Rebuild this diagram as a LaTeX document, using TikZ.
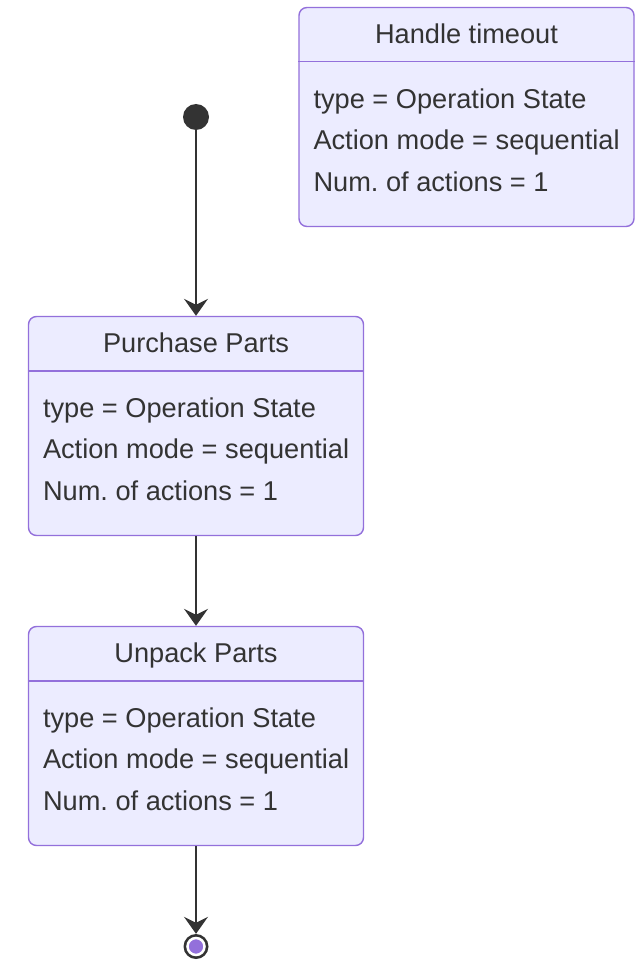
\documentclass[tikz,border=0pt]{standalone}
\usepackage{fontspec}
\setmainfont{Liberation Sans}
\usetikzlibrary{arrows.meta}
\definecolor{statefill}{HTML}{ECECFF}
\definecolor{stateline}{HTML}{9370DB}
\definecolor{ink}{HTML}{333333}
\tikzset{
  statebox/.style={draw=stateline, fill=statefill, line width=1.4pt, rounded corners=8pt,
    minimum width=335pt, minimum height=219pt, inner sep=0pt},
  divider/.style={draw=stateline, line width=1.4pt},
  txt/.style={text=ink, font=\fontsize{27.2}{42}\selectfont, inner sep=0pt},
  flow/.style={draw=ink, line width=1.5pt, -{Stealth[length=17pt,width=24pt,inset=6pt]}},
}
\begin{document}
\frenchspacing
\begin{tikzpicture}[x=1pt,y=-1pt]
  \useasboundingbox[fill=white] (0,0) rectangle (644,960);
  \foreach \n/\x/\y/\t in {timeout/466.5/117/Handle timeout,
                           purchase/196/426/Purchase Parts,
                           unpack/196/736/Unpack Parts}{
    \node[statebox] (\n) at (\x,\y) {};
    \node[txt, anchor=base] (\n-title) at ([yshift=-37pt]\n.north) {\t};
    \draw[divider] ([yshift=-55pt]\n.north west) -- ([yshift=-55pt]\n.north east);
    \node[txt, anchor=base west] (\n-type) at ([xshift=15pt,yshift=-101.5pt]\n.north west) {type = Operation State};
    \node[txt, anchor=base west] (\n-mode) at ([xshift=15pt,yshift=-143pt]\n.north west) {Action mode = sequential};
    \node[txt, anchor=base west] (\n-num) at ([xshift=15pt,yshift=-185pt]\n.north west) {Num. of actions = 1};
  }
  % start and end points
  \node[circle, fill=ink, minimum size=26pt, inner sep=0pt] (start) at (196,117) {};
  \node[circle, fill=ink, minimum size=25pt, inner sep=0pt] (stop) at (196,946.5) {};
  \node[circle, fill=stateline, draw=white, line width=2.5pt, minimum size=17pt, inner sep=0pt] (stop-in) at (stop) {};
  \draw[flow] (start) -- (purchase.north);
  \draw[flow] (purchase.south) -- (unpack.north);
  \draw[flow] (unpack.south) -- (stop);
\end{tikzpicture}
\end{document}
